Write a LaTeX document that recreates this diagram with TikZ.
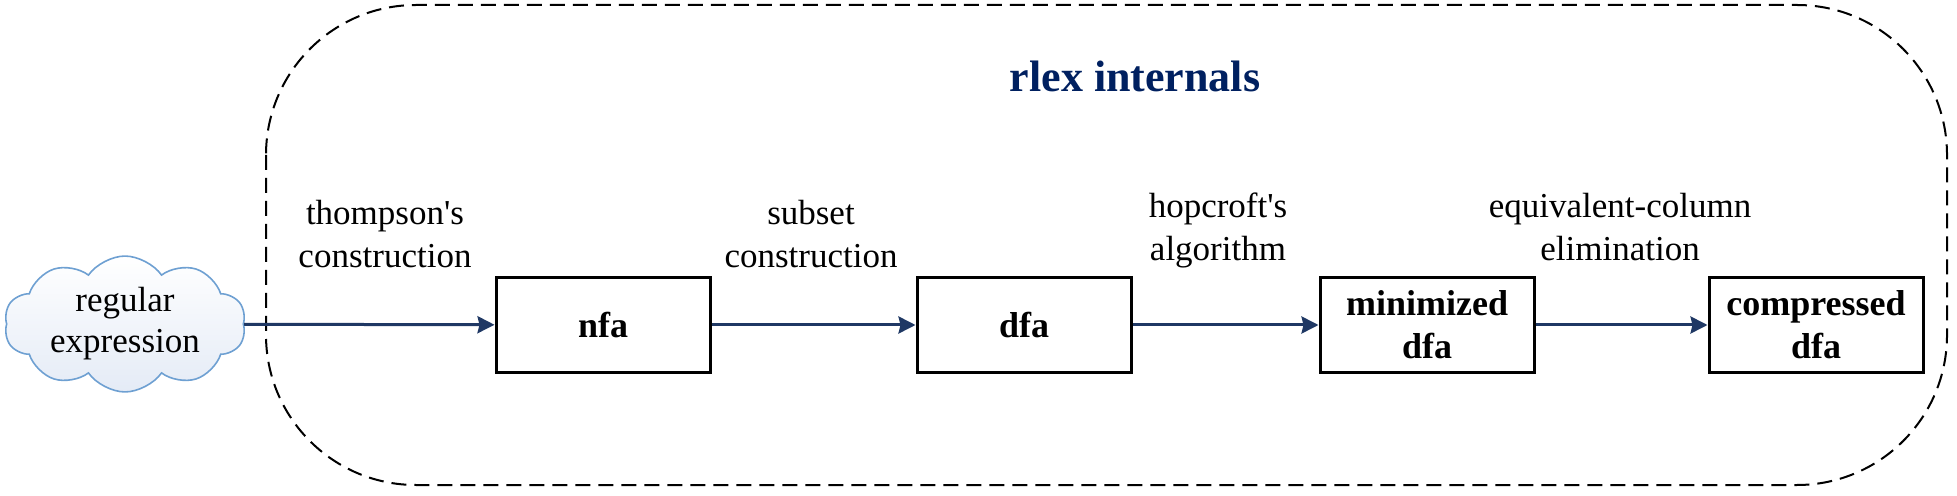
\documentclass[tikz,border=0pt]{standalone}
\usepackage{fontspec}
\setmainfont{Liberation Serif}
\usetikzlibrary{arrows.meta,positioning,shapes.symbols}
\definecolor{titleblue}{RGB}{0,32,96}
\definecolor{arrowblue}{RGB}{31,56,100}
\definecolor{cloudline}{RGB}{110,160,210}
\definecolor{cloudfill}{RGB}{228,235,246}
\tikzset{%
  stage/.style={draw,line width=1.5pt,align=center,minimum width=107pt,minimum height=47pt,inner sep=2pt,font=\bfseries\fontsize{18}{21.5}\selectfont},
  arrow/.style={-{Stealth[length=8.5pt,width=8.5pt,inset=1pt]}, line width=1.5pt, draw=arrowblue}%
}

\begin{document}
\begin{tikzpicture}[
    x=0.5pt,
    y=-0.5pt,
    font=\fontsize{17.5}{21.5}\selectfont,
    steplabel/.style={
        align=center,
        anchor=base,
        inner sep=0pt
    },
    frame/.style={
        draw,
        line width=1pt,
        dash pattern=on 7.5pt off 4pt,
        rounded corners=75pt
    },
    source/.style={
        cloud,
        cloud puffs=10,
        cloud puff arc=110,
        aspect=2.3,
        draw=cloudline,
        line width=0.8pt,
        top color=white,
        bottom color=cloudfill,
        minimum width=117pt,
        minimum height=54pt,
        inner sep=0pt,
        align=center,
        font=\fontsize{17.5}{20.5}\selectfont
    }
]
\useasboundingbox (0,0) rectangle (1957,496);

% Dashed container
\draw[frame] (266,5) rectangle (1947,485);
\node[anchor=base, font=\bfseries\fontsize{22}{26}\selectfont, text=titleblue] (title) at (1135,92) {rlex internals};

% Input
\node[source] (regex) at (125,324) {regular\\expression};

% Pipeline stages
\node[stage] (nfa) at (603,325) {nfa};
\node[stage, right=102pt of nfa] (dfa) {dfa};
\node[stage, right=93pt of dfa] (mindfa) {minimized\\dfa};
\node[stage, right=86pt of mindfa] (compdfa) {compressed\\dfa};

\draw[arrow] (regex) -- (nfa);
\draw[arrow] (nfa) -- (dfa);
\draw[arrow] (dfa) -- (mindfa);
\draw[arrow] (mindfa) -- (compdfa);

% Step labels (anchored at the lower baseline)
\node[steplabel] (thompson) at (385,268) {thompson\textquotesingle s\\construction};
\node[steplabel] (subset) at (811,268) {subset\\construction};
\node[steplabel] (hopcroft) at (1218,261) {hopcroft\textquotesingle s\\algorithm};
\node[steplabel] (eqcol) at (1620,261) {equivalent-column\\elimination};

\end{tikzpicture}
\end{document}
